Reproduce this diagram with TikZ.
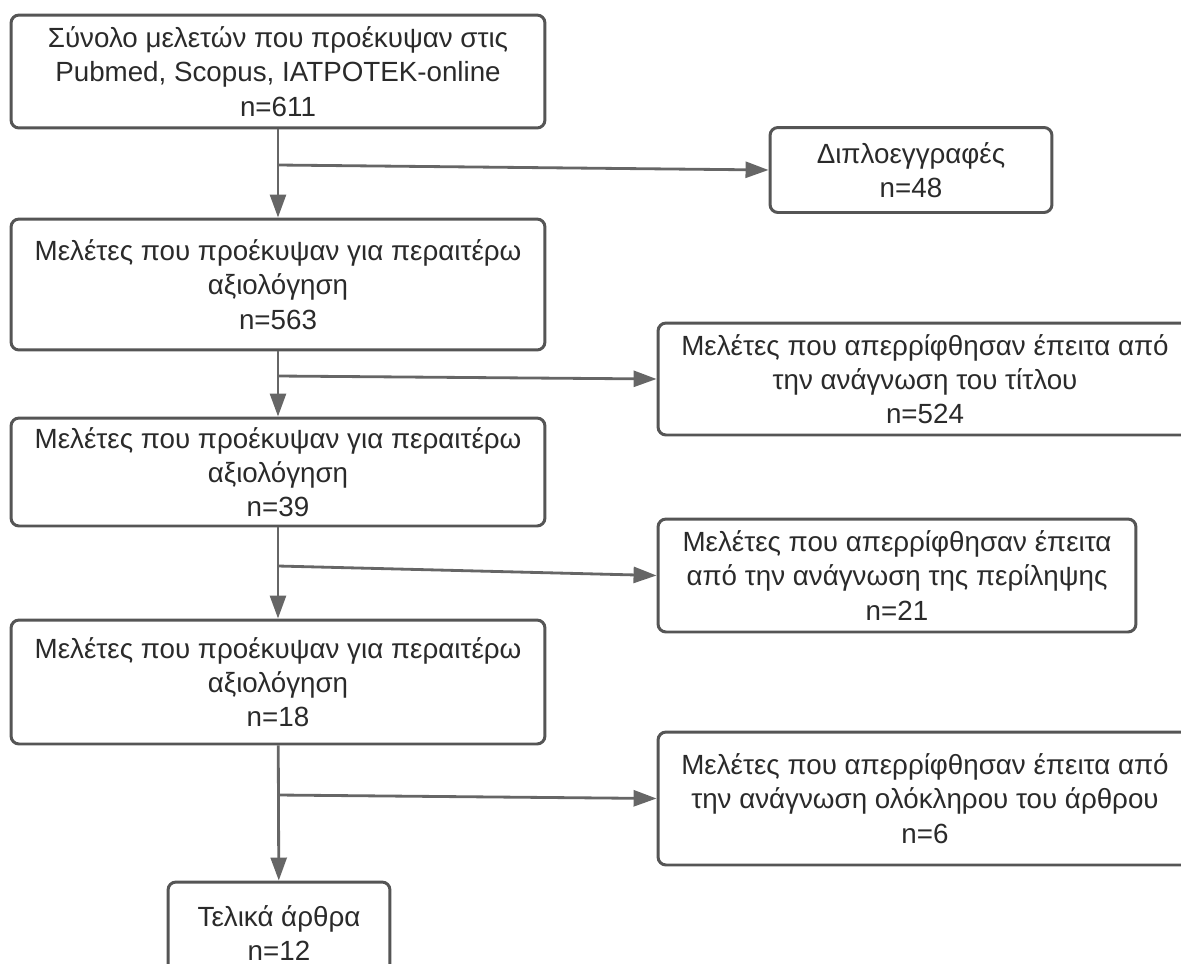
\documentclass[tikz,border=0pt]{standalone}
\usepackage{fontspec}
\setmainfont{Liberation Sans}
\usetikzlibrary{arrows.meta}
\definecolor{boxgray}{HTML}{555555}
\definecolor{linegray}{HTML}{666666}
\definecolor{textgray}{HTML}{2A2A2A}

\begin{document}
\begin{tikzpicture}[x=0.02cm,y=-0.02cm,
      stage/.style={draw=boxgray,line width=1.7pt,rounded corners=0.16cm,
         align=center,text=textgray,inner sep=0pt,
         font=\fontsize{15.8}{19.5}\selectfont},
      flow/.style={draw=linegray,line width=1.6pt,
         -{Triangle[length=0.46cm,width=0.32cm]}}]
         %\draw[very thin,gray,step=50] (0,0) grid (1181,964) ;
         \clip (0,0) rectangle (1181,964) ;
         % left column
         \node[stage,minimum width=10.68cm,minimum height=2.26cm] (all) at (278,71.5)
            {Σύνολο μελετών που προέκυψαν στις\\Pubmed, Scopus, ΙΑΤΡΟΤΕΚ-online\\n=611} ;
         \node[stage,minimum width=10.68cm,minimum height=2.62cm] (scr) at (278,284.5)
            {Μελέτες που προέκυψαν για περαιτέρω\\αξιολόγηση\\n=563} ;
         \node[stage,minimum width=10.68cm,minimum height=2.16cm] (abs) at (278,472)
            {Μελέτες που προέκυψαν για περαιτέρω\\αξιολόγηση\\n=39} ;
         \node[stage,minimum width=10.68cm,minimum height=2.48cm] (ful) at (278,682)
            {Μελέτες που προέκυψαν για περαιτέρω\\αξιολόγηση\\n=18} ;
         \node[stage,minimum width=4.44cm,minimum height=2.04cm] (fin) at (279,933)
            {Τελικά άρθρα\\n=12} ;
         % right column
         \node[stage,minimum width=5.64cm,minimum height=1.7cm] (dup) at (911,170)
            {Διπλοεγγραφές\\n=48} ;
         \node[stage,minimum width=10.68cm,minimum height=2.24cm] (rejt) at (925,379)
            {Μελέτες που απερρίφθησαν έπειτα από\\την ανάγνωση του τίτλου\\n=524} ;
         \node[stage,minimum width=9.56cm,minimum height=2.26cm] (reja) at (897,575.5)
            {Μελέτες που απερρίφθησαν έπειτα\\από την ανάγνωση της περίληψης\\n=21} ;
         \node[stage,minimum width=10.68cm,minimum height=2.66cm] (rejf) at (925,798.5)
            {Μελέτες που απερρίφθησαν έπειτα από\\την ανάγνωση ολόκληρου του άρθρου\\n=6} ;
         % branch points
         \coordinate (b1) at (278,165) ;
         \coordinate (b2) at (278,376) ;
         \coordinate (b3) at (278,566) ;
         \coordinate (b4) at (278,795) ;
         \draw[flow] (all) -- (scr) ;
         \draw[flow] (scr) -- (abs) ;
         \draw[flow] (abs) -- (ful) ;
         \draw[flow] (ful) -- (fin) ;
         \draw[flow] (b1) -- (dup.west) ;
         \draw[flow] (b2) -- (rejt.west) ;
         \draw[flow] (b3) -- (reja.west) ;
         \draw[flow] (b4) -- (rejf.west) ;
      \end{tikzpicture}
\end{document}
